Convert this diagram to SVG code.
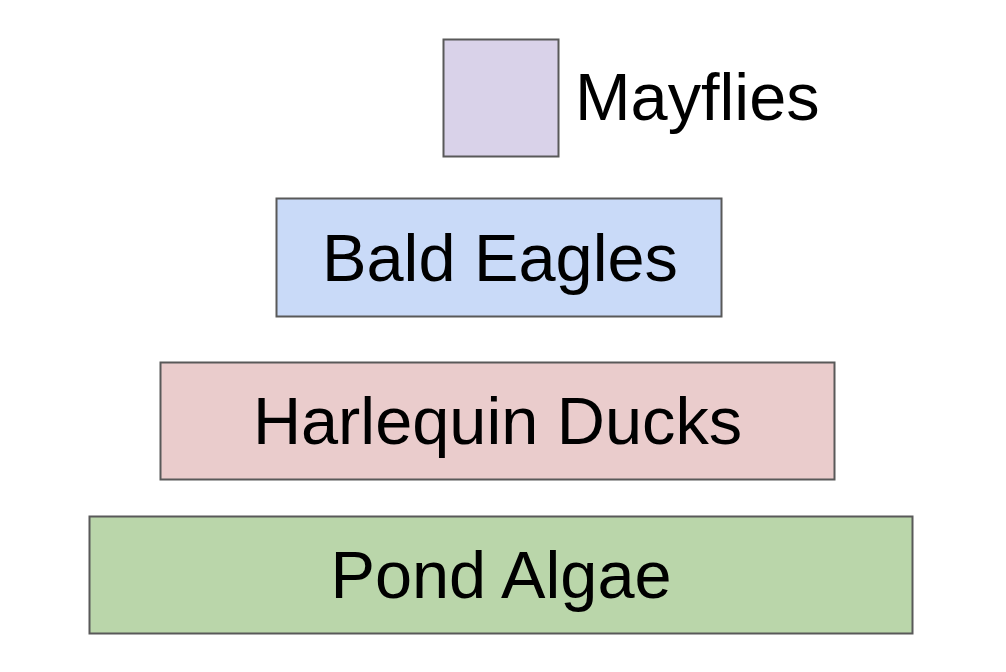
<svg xmlns="http://www.w3.org/2000/svg" width="1006" height="672" viewBox="0 0 1006 672">
<style>
.box{stroke:#595959;stroke-width:2}
.lbl{font-family:"Liberation Sans",Arial,sans-serif;font-size:66.7px;fill:#000}
</style>
<rect width="1006" height="672" fill="#fff"/>
<g id="mayflies">
<rect class="box" x="443.5" y="39.5" width="115" height="117" fill="#d9d2e9"/>
<text class="lbl" x="575" y="120">Mayflies</text>
</g>
<g id="bald-eagles">
<rect class="box" x="276.5" y="198.5" width="445" height="118" fill="#c9daf8"/>
<text class="lbl" x="500" y="281" text-anchor="middle">Bald Eagles</text>
</g>
<g id="harlequin-ducks">
<rect class="box" x="160.5" y="362.5" width="674" height="117" fill="#eacccc"/>
<text class="lbl" x="497.5" y="444" text-anchor="middle">Harlequin Ducks</text>
</g>
<g id="pond-algae">
<rect class="box" x="89.5" y="516.5" width="823" height="117" fill="#bad6aa"/>
<text class="lbl" x="501" y="598" text-anchor="middle">Pond Algae</text>
</g>
<g id="connectors"></g>
</svg>
